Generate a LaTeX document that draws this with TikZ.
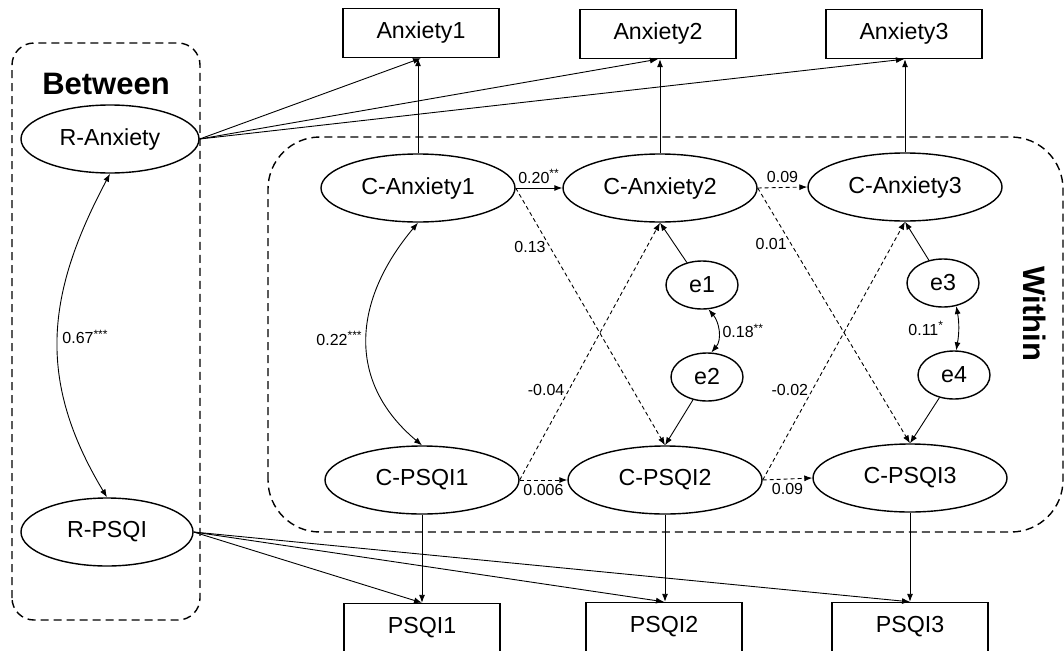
\documentclass[tikz,border=0pt]{standalone}
\usepackage{fontspec}
\setmainfont{Liberation Sans}
\usetikzlibrary{shapes.geometric,arrows.meta}

\begin{document}
\begin{tikzpicture}[x=0.5pt, y=0.5pt,
    latent/.style={draw, ellipse, line width=0.7pt, minimum width=97pt, minimum height=34pt, inner sep=1pt, font=\fontsize{11.6}{13}\selectfont},
    obs/.style={draw, rectangle, line width=0.7pt, minimum width=78pt, minimum height=24.5pt, font=\fontsize{11.6}{13}\selectfont},
    err/.style={latent, minimum width=36pt, minimum height=24pt},
    reg/.style={-{Latex[length=4pt,width=3pt]}, line width=0.45pt},
    dreg/.style={reg, dash pattern=on 2pt off 1.5pt},
    cov/.style={{Latex[length=4pt,width=3pt]}-{Latex[length=4pt,width=3pt]}, line width=0.45pt},
    coef/.style={font=\fontsize{8}{9}\selectfont, inner sep=2pt},
    group/.style={line width=0.7pt, dash pattern=on 4pt off 2.5pt}]
    \useasboundingbox (0,0) rectangle (1064,650);

    \draw[group, rounded corners=11pt] (12,30) rectangle (200,607);
    \draw[group, rounded corners=26pt] (268,118) rectangle (1063,513);
    \node[font=\fontsize{15.5}{17}\selectfont\bfseries] (bt) at (106,566) {Between};
    \node[font=\fontsize{15.5}{17}\selectfont\bfseries, rotate=-90] (wi) at (1035,336) {Within};

    \node[latent, minimum width=89pt] (ra) at (110,511) {R-Anxiety};
    \node[latent, minimum width=86pt] (rp) at (107,118) {R-PSQI};

    \node[obs] (a1) at (421,617) {Anxiety1};
    \node[obs] (a2) at (658,616) {Anxiety2};
    \node[obs] (a3) at (904,616) {Anxiety3};
    \node[latent] (ca1) at (418,462) {C-Anxiety1};
    \node[latent] (ca2) at (660,462) {C-Anxiety2};
    \node[latent] (ca3) at (905,463) {C-Anxiety3};
    \node[err] (e1) at (702,365) {e1};
    \node[err] (e2) at (707,273) {e2};
    \node[err] (e3) at (943,367) {e3};
    \node[err] (e4) at (954,275) {e4};
    \node[latent] (cp1) at (422,170) {C-PSQI1};
    \node[latent] (cp2) at (665,170) {C-PSQI2};
    \node[latent] (cp3) at (910,172) {C-PSQI3};
    \node[obs] (p1) at (422,22) {PSQI1};
    \node[obs] (p2) at (664,23) {PSQI2};
    \node[obs] (p3) at (910,23) {PSQI3};

    \draw[reg] (ra.east) -- (a1.south);
    \draw[reg] (ra.east) -- (a2.south);
    \draw[reg] (ra.east) -- (a3.south);
    \draw[reg] (rp.east) -- (p1.north);
    \draw[reg] (rp.east) -- (p2.north);
    \draw[reg] (rp.east) -- (p3.north);
    \draw[reg] (ca1.north) -- (ca1.north |- a1.south);
    \draw[reg] (ca2.north) -- (ca2.north |- a2.south);
    \draw[reg] (ca3.north) -- (ca3.north |- a3.south);
    \draw[reg] (cp1.south) -- (cp1.south |- p1.north);
    \draw[reg] (cp2.south) -- (cp2.south |- p2.north);
    \draw[reg] (cp3.south) -- (cp3.south |- p3.north);

    \draw[cov] (ra.south) to[out=242, in=121, looseness=1.08] node[coef, right] (l67) {0.67\textsuperscript{***}} (rp.north);
    \draw[cov] (ca1.south) to[out=230, in=140, looseness=1.15] node[coef, left] (l22) {0.22\textsuperscript{***}} (cp1.north);

    \draw[reg] (ca1.east) -- node[coef, above] (l20) {0.20\textsuperscript{**}} (ca2.west);
    \draw[dreg] (ca2.east) -- node[coef, above] (l09a) {0.09} (ca3.west);
    \draw[dreg] (cp1.east) -- node[coef, below] (l006) {0.006} (cp2.west);
    \draw[dreg] (cp2.east) -- node[coef, below] (l09b) {0.09} (cp3.west);
    \draw[dreg] (ca1.east) -- node[coef, left, pos=0.23] (l13) {0.13} (cp2.north);
    \draw[dreg] (cp1.east) -- node[coef, left, pos=0.35] (l04) {-0.04} (ca2.south);
    \draw[dreg] (ca2.east) -- node[coef, left, pos=0.22] (l01) {0.01} (cp3.north);
    \draw[dreg] (cp2.east) -- node[coef, left, pos=0.35] (l02) {-0.02} (ca3.south);

    \draw[reg] (e1) -- (ca2.south);
    \draw[reg] (e2) -- (cp2.north);
    \draw[reg] (e3) -- (ca3.south);
    \draw[reg] (e4) -- (cp3.north);
    \draw[cov] (e1.-75) to[out=-50, in=50] node[coef, right] (l18) {0.18\textsuperscript{**}} (e2.80);
    \draw[cov] (e3.-60) to[out=-80, in=80] node[coef, left=5pt] (l11) {0.11\textsuperscript{*}} (e4.85);
\end{tikzpicture}
\end{document}
